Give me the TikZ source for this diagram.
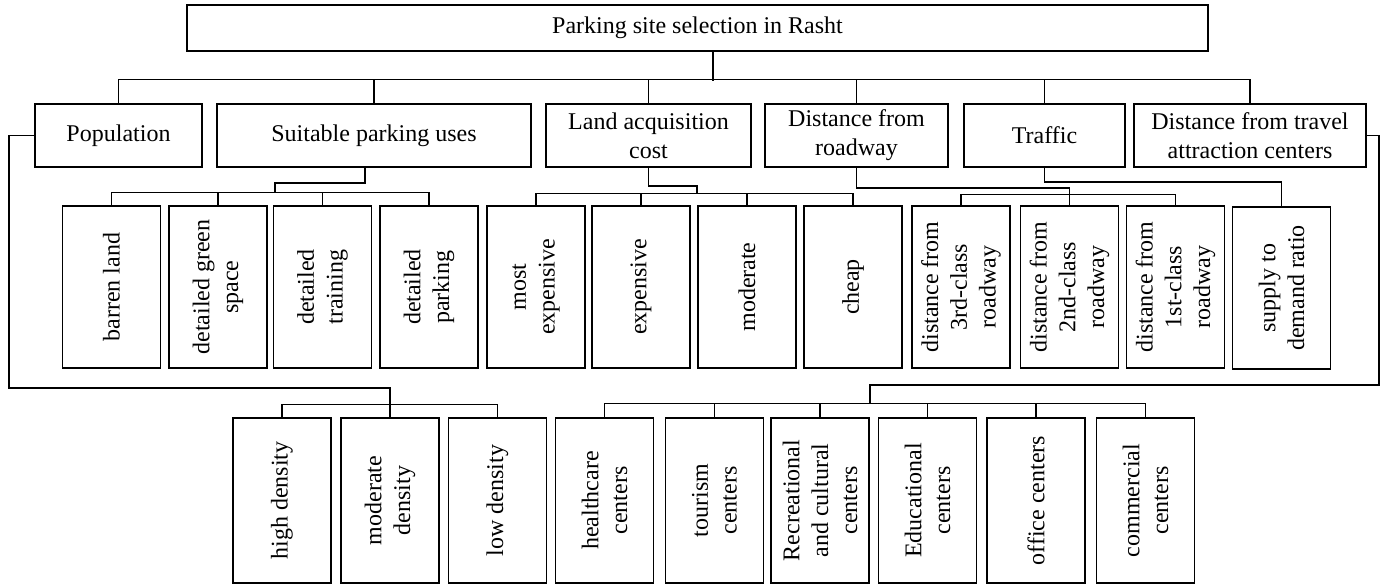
\documentclass[tikz,border=0pt]{standalone}
\usepackage{fontspec}
\setmainfont{Liberation Serif}
\tikzset{
  box/.style={draw, line width=0.9pt, inner sep=0pt, align=center,
    font=\fontsize{12}{14.4}\selectfont},
  vbox/.style={box, rotate=90, minimum width=81pt, minimum height=49pt},
  lbox/.style={vbox, minimum width=82.5pt},
  link/.style={line width=0.6pt},
}
\begin{document}
\begin{tikzpicture}[x=0.5pt, y=-0.5pt]
  \useasboundingbox (0,0) rectangle (1386,584);
  % goal
  \node[box, minimum width=510.5pt, minimum height=23pt] (root) at (697.5,28) {Parking site selection in Rasht};
  % criteria
  \node[box, minimum width=83.5pt, minimum height=31.5pt]  (pop)     at (118.5,135.5) {Population};
  \node[box, minimum width=157pt, minimum height=31.5pt]   (uses)    at (374,135.5)   {Suitable parking uses};
  \node[box, minimum width=102.5pt, minimum height=31.5pt] (land)    at (648.5,135.5) {Land acquisition\\cost};
  \node[box, minimum width=91.5pt, minimum height=31.5pt]  (road)    at (856.5,135.5) {Distance from\\roadway};
  \node[box, minimum width=80.5pt, minimum height=31.5pt]  (traffic) at (1044.5,135.5) {Traffic};
  \node[box, minimum width=116pt, minimum height=31.5pt]   (attract) at (1250,135.5)  {Distance from travel\\attraction centers};
  % sub-criteria
  \node[vbox] (barren)   at (111.5,287)  {barren land};
  \node[vbox] (green)    at (218,287)    {detailed green\\space};
  \node[vbox] (training) at (322.5,287)  {detailed\\training};
  \node[vbox] (parkuse)  at (429,287)    {detailed\\parking};
  \node[vbox] (mostexp)  at (536,287)    {most\\expensive};
  \node[vbox] (exp)      at (641,287)    {expensive};
  \node[vbox] (moderate) at (747,287)    {moderate};
  \node[vbox] (cheap)    at (853,287)    {cheap};
  \node[vbox] (road3)    at (961,287)    {distance from\\3rd-class\\roadway};
  \node[vbox] (road2)    at (1069.5,287) {distance from\\2nd-class\\roadway};
  \node[vbox] (road1)    at (1175.5,287) {distance from\\1st-class\\roadway};
  \node[vbox] (supply)   at (1281.5,288) {supply to\\demand ratio};
  \node[lbox] (high)     at (282,500.5)    {high density};
  \node[lbox] (middens)  at (390,500.5)    {moderate\\density};
  \node[lbox] (low)      at (497.5,500.5)  {low density};
  \node[lbox] (health)   at (604.5,500.5)  {healthcare\\centers};
  \node[lbox] (tourism)  at (714.5,500.5)  {tourism\\centers};
  \node[lbox] (recre)    at (820,500.5)    {Recreational\\and cultural\\centers};
  \node[lbox] (educ)     at (927.5,500.5)  {Educational\\centers};
  \node[lbox] (office)   at (1036,500.5)   {office centers};
  \node[lbox] (commerce) at (1145.5,500.5) {commercial\\centers};
  % junctions
  \coordinate (usesbar)    at (275,193);
  \coordinate (landbar)    at (697,194);
  \coordinate (attractbar) at (870,404);
  % goal to criteria
  \draw[link] ([xshift=7.75pt]root.south) -- ++(0,29);
  \draw[link] (pop.north) -- ++(0,-24) -| (attract.north);
  \foreach \n in {uses,land,road,traffic}
    \draw[link] (\n.north) -- ++(0,-24);
  % criteria to sub-criteria
  \draw[link] ([xshift=-4.5pt]uses.south) -- ++(0,15) -| (usesbar);
  \draw[link] (barren.east) -- ++(0,-13) -| (parkuse.east);
  \foreach \n in {green,training}
    \draw[link] (\n.east) -- ++(0,-13);
  \draw[link] (land.south) -- ++(0,18) -| (landbar);
  \draw[link] (mostexp.east) -- ++(0,-12) -| (cheap.east);
  \foreach \n in {exp,moderate}
    \draw[link] (\n.east) -- ++(0,-12);
  \draw[link] (road.south) -- ++(0,20) -| (road2.east);
  \draw[link] (road3.east) -- ++(0,-11) -| (road1.east);
  \draw[link] (traffic.south) -- ++(0,14) -| (supply.east);
  \draw[link] (pop.west) -| (9,388) -| (middens.east);
  \draw[link] (high.east) -- ++(0,-13) -| (low.east);
  \draw[link] (attract.east) -| (1379,385) -| (attractbar);
  \draw[link] (health.east) -- ++(0,-14) -| (commerce.east);
  \foreach \n in {tourism,recre,educ,office}
    \draw[link] (\n.east) -- ++(0,-14);
\end{tikzpicture}
\end{document}
